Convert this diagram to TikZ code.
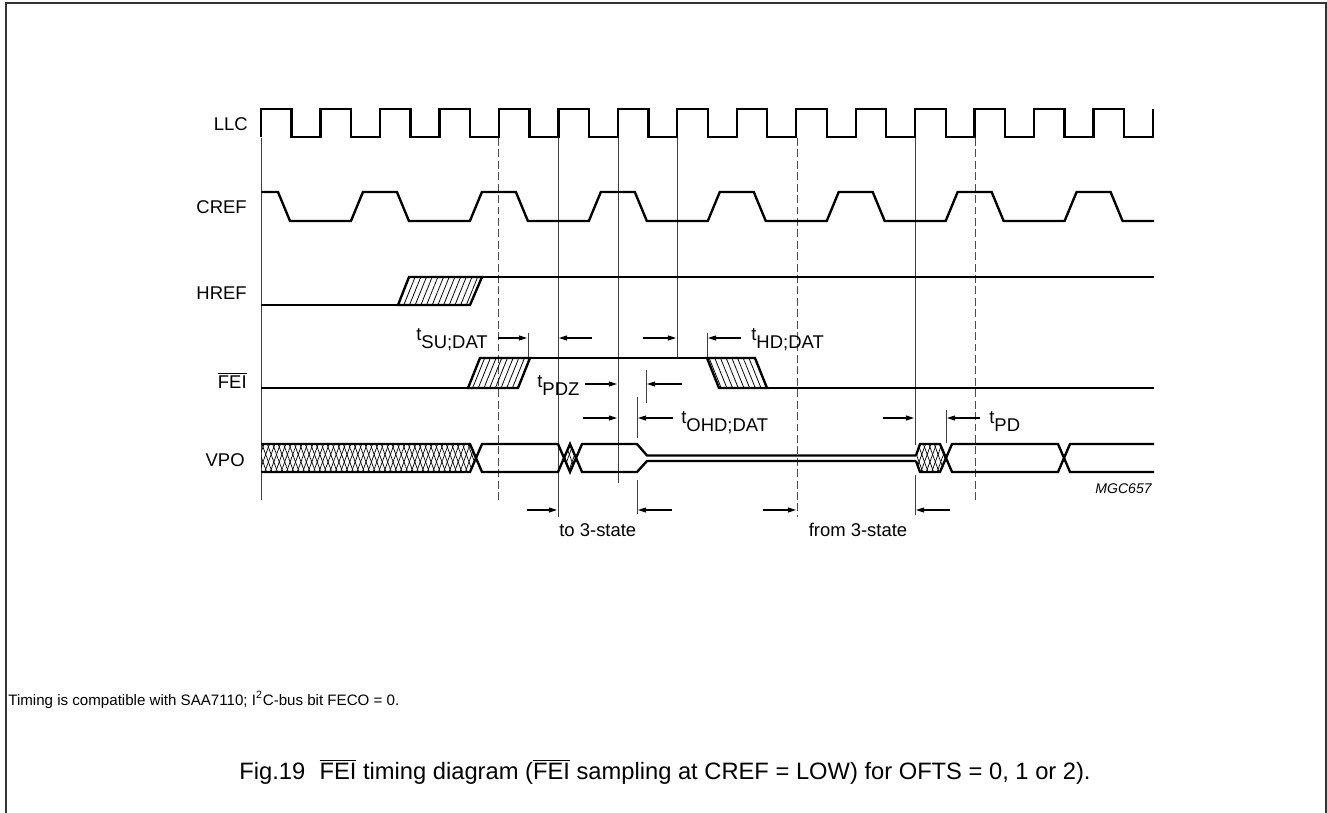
\documentclass[tikz,border=0pt]{standalone}
\usepackage{fontspec}
\setmainfont{Liberation Sans}
\usetikzlibrary{arrows.meta, patterns.meta}
\newcommand{\ovl}[1]{$\overline{\mbox{#1}}$}
\newcommand{\tname}[1]{t\raisebox{-5pt}{#1}}

\begin{document}
\begin{tikzpicture}[x=0.02cm, y=-0.02cm,
    sig/.style={line width=1.35pt},
    hatchR/.style={pattern={Lines[angle=68, distance=3pt, line width=0.45pt]}},
    hatchL/.style={pattern={Lines[angle=112, distance=3pt, line width=0.45pt]}},
    xhatch/.style={pattern={Lines[angle=70, distance=2.9pt, line width=0.4pt]},
      postaction={pattern={Lines[angle=110, distance=2.9pt, line width=0.4pt]}}},
    vline/.style={line width=0.5pt, black!75},
    dline/.style={line width=0.55pt, black!70, dash pattern=on 4.5pt off 2pt},
    dimarrow/.style={line width=0.6pt, -{Triangle[length=4.6pt, width=2.8pt]}},
    lbl/.style={inner sep=0pt, font=\fontsize{10.5}{12}\selectfont}]
  \useasboundingbox (0,0) rectangle (1327,812);

  % Frame
  \draw[line width=0.8pt, black!80] (6,830) -- (6,3) -- (1326,3) -- (1326,830);

  % Reference lines
  \draw[vline] (261,138) -- (261,500);
  \draw[dline] (498,138) -- (498,500);
  \draw[vline] (558,138) -- (558,517);
  \draw[vline] (618,138) -- (618,483);
  \draw[vline] (677,138) -- (677,358);
  \draw[dline] (797,138) -- (797,517);
  \draw[vline] (915,138) -- (915,445);
  \draw[dline] (975,138) -- (975,500);

  % LLC
  \node[lbl, anchor=east] (llclbl) at (248,124) {LLC};
  \draw[sig] (261,137) foreach \k in {0,...,14} {
      -- ++(0,-28) -- ++(30.5,0) -- ++(0,28) -- ++(28.97,0) } -- ++(0,-28);

  % CREF
  \node[lbl, anchor=east] (creflbl) at (247,207) {CREF};
  \draw[sig] (261,192) -- (278,192) -- (290,221) foreach \k in {0,...,6} {
      -- ++(60.94,0) -- ++(12,-29) -- ++(34,0) -- ++(12,29) } -- (1154,221);

  % HREF
  \node[lbl, anchor=east] (hreflbl) at (247,293) {HREF};
  \draw[sig] (261,305) -- (398,305);
  \draw[sig, hatchR] (398,305) -- (409,277) -- (482,277) -- (470,305) -- cycle;
  \draw[sig] (482,277) -- (1154,277);

  % FEI
  \node[lbl, anchor=east] (feilbl) at (247,380) {\ovl{FEI}};
  \draw[sig] (261,388) -- (468,388);
  \draw[sig, hatchR] (468,388) -- (480,358) -- (530,358) -- (518,388) -- cycle;
  \draw[sig] (530,358) -- (707,358);
  \draw[sig, hatchL] (707,358) -- (755,358) -- (767,388) -- (719,388) -- cycle;
  \draw[sig] (767,388) -- (1154,388);

  % VPO
  \node[lbl, anchor=east] (vpolbl) at (245,460) {VPO};
  \path[xhatch] (261,444) -- (470,444) -- (476,458) -- (470,472) -- (261,472) -- cycle;
  \path[xhatch] (564,458) -- (570,444) -- (576,458) -- (570,472) -- cycle;
  \path[xhatch] (916,455.5) -- (920,444) -- (940,444) -- (946,458) -- (940,472) -- (920,472) -- (916,461) -- cycle;
  \draw[sig] (261,444) -- (470,444) -- (482,472) -- (558,472) -- (570,444) -- (582,472)
      -- (637,472) -- (647,461) -- (916,461);
  \draw[sig] (261,472) -- (470,472) -- (482,444) -- (558,444) -- (570,472) -- (582,444)
      -- (637,444) -- (647,455.5) -- (916,455.5);
  \draw[sig] (916,455.5) -- (920,444) -- (940,444) -- (952,472) -- (1058,472) -- (1070,444) -- (1154,444);
  \draw[sig] (916,461) -- (920,472) -- (940,472) -- (952,444) -- (1058,444) -- (1070,472) -- (1154,472);

  % Tick marks
  \draw[vline] (528,333) -- (528,357);
  \draw[vline] (707,333) -- (707,357);
  \draw[vline] (646,370) -- (646,403);
  \draw[vline] (637,397) -- (637,438);
  \draw[vline] (637,480) -- (637,514);
  \draw[vline] (946,410) -- (946,443);
  \draw[vline] (915,475) -- (915,515);

  % Timing arrows
  \draw[dimarrow] (498,338) -- (527,338);
  \draw[dimarrow] (592,338) -- (559,338);
  \draw[dimarrow] (643,338) -- (676,338);
  \draw[dimarrow] (741,338) -- (708,338);
  \draw[dimarrow] (585,384) -- (617,384);
  \draw[dimarrow] (682,384) -- (647,384);
  \draw[dimarrow] (583,418) -- (617,418);
  \draw[dimarrow] (673,418) -- (638,418);
  \draw[dimarrow] (883,418) -- (914,418);
  \draw[dimarrow] (980,418) -- (947,418);
  \draw[dimarrow] (527,510) -- (557,510);
  \draw[dimarrow] (672,510) -- (638,510);
  \draw[dimarrow] (763,510) -- (796,510);
  \draw[dimarrow] (950,510) -- (916,510);

  % Timing labels
  \node[lbl, anchor=base west] (tsu) at (416,340) {\tname{SU;DAT}};
  \node[lbl, anchor=base west] (thd) at (751,340) {\tname{HD;DAT}};
  \node[lbl, anchor=base west] (tpdz) at (537,387) {\tname{PDZ}};
  \node[lbl, anchor=base west] (tohd) at (681,423) {\tname{OHD;DAT}};
  \node[lbl, anchor=base west] (tpd) at (989,423) {\tname{PD}};
  \node[lbl, anchor=base west] (tothree) at (559,536) {to 3-state};
  \node[lbl, anchor=base] (fromthree) at (858,536) {from 3-state};
  \node[inner sep=0pt, anchor=base east, font=\fontsize{8}{9}\selectfont\itshape] (mgc) at (1152,493) {MGC657};

  % Note and caption
  \node[inner sep=0pt, anchor=base west, font=\fontsize{8.6}{10}\selectfont] (note) at (8,705)
    {Timing is compatible with SAA7110; I\textsuperscript{2}C-bus bit FECO = 0.};
  \node[inner sep=0pt, anchor=base, font=\fontsize{13.5}{16}\selectfont] (caption) at (665,779)
    {Fig.19\hspace{0.6em}\ovl{FEI} timing diagram (\ovl{FEI} sampling at CREF = LOW) for OFTS = 0, 1 or 2).};
\end{tikzpicture}
\end{document}
